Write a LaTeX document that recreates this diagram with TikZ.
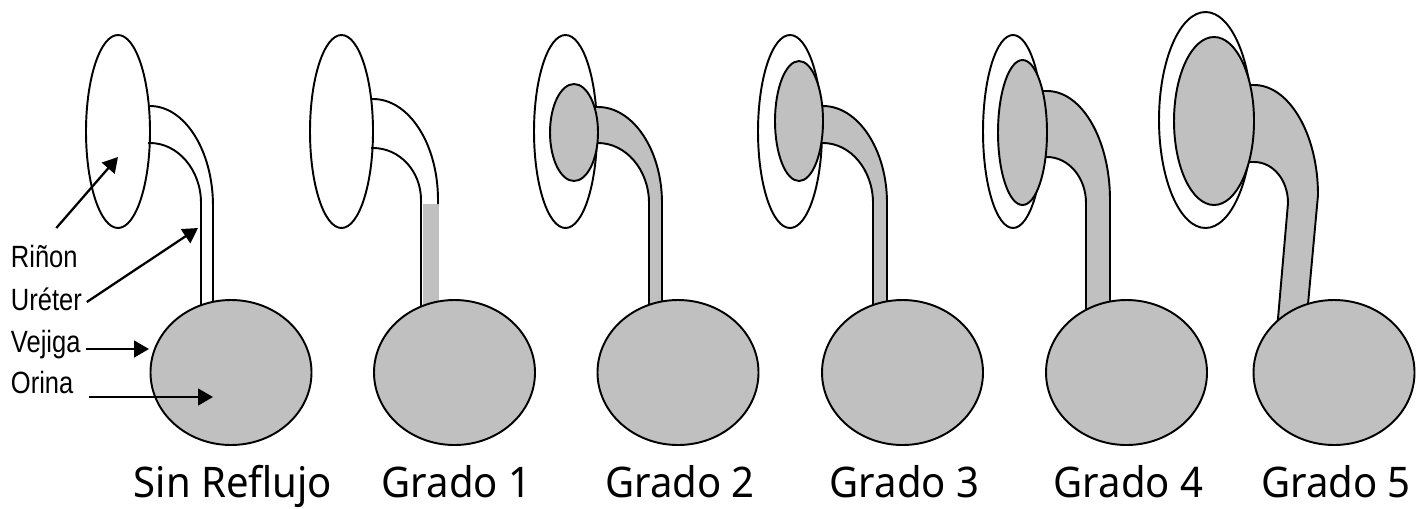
\documentclass[tikz,border=0pt]{standalone}
\usepackage{fontspec}
\newfontfamily\labelfont[FakeStretch=0.83]{Liberation Sans}
\newfontfamily\gradefont[FakeStretch=0.95]{Noto Sans}
\usepackage{tikz}
\usetikzlibrary{arrows.meta}
\definecolor{orina}{RGB}{192,192,192}

\begin{document}
\begin{tikzpicture}[x=0.02cm,y=-0.02cm,line width=1.1pt,
  organo/.style={draw,fill=orina},
  hueco/.style={draw,fill=white},
  flecha/.style={-{Triangle[length=8.5pt,width=9.5pt]},line width=1.3pt},
  etiqueta/.style={font=\labelfont\fontsize{17.5}{20}\selectfont,inner sep=0pt,anchor=base west},
  grado/.style={font=\gradefont\fontsize{24}{28}\selectfont,inner sep=0pt,anchor=base}]
 \useasboundingbox (0,0) rectangle (1422,508);
 % rinones
 \draw[hueco] (118,131.5) ellipse [x radius=32,y radius=96.5];
 \draw[hueco] (341.5,131.5) ellipse [x radius=31.5,y radius=96.5];
 \draw[hueco] (565.5,131.5) ellipse [x radius=31.5,y radius=96.5];
 \draw[hueco] (790,131.5) ellipse [x radius=32,y radius=96.5];
 \draw[hueco] (1013,131.5) ellipse [x radius=30,y radius=96.5];
 \draw[hueco] (1205.5,120) ellipse [x radius=46.5,y radius=108];
 % ureteres sin reflujo y grado 1
 \draw (148,106) -- (150,106) .. controls (185,106) and (213,151) .. (213,206) -- (213,310);
 \draw (148,143) -- (150,143) .. controls (178,143) and (201,170) .. (201,203) -- (201,315);
 \fill[orina] (422.5,204) rectangle (438.5,315);
 \draw (371,99) -- (373,99) .. controls (409,99) and (438,144) .. (438,200) -- (438,204);
 \draw (371,148) -- (373,148) .. controls (399.5,148) and (421,171) .. (421,200) -- (421,315);
 % ureteres con reflujo
 \fill[orina] (574,107) -- (598,107) .. controls (633,107) and (662,150) .. (662,203) -- (662,320)
   -- (649,320) -- (649,203) .. controls (649,170) and (626,143) .. (598,143) -- (574,143) -- cycle;
 \draw (574,107) -- (598,107) .. controls (633,107) and (662,150) .. (662,203) -- (662,315);
 \draw (574,143) -- (598,143) .. controls (626,143) and (649,170) .. (649,203) -- (649,315);
 \fill[orina] (799,106) -- (823,106) .. controls (858,106) and (887,149.5) .. (887,203) -- (887,320)
   -- (873,320) -- (873,203) .. controls (873,170) and (850.5,143) .. (823,143) -- (799,143) -- cycle;
 \draw (799,106) -- (823,106) .. controls (858,106) and (887,149.5) .. (887,203) -- (887,315);
 \draw (799,143) -- (823,143) .. controls (850.5,143) and (873,170) .. (873,203) -- (873,315);
 \fill[orina] (1022,91) -- (1047,91) .. controls (1082,91) and (1110,140) .. (1110,200) -- (1110,320)
   -- (1086,320) -- (1086,203) .. controls (1086,177.5) and (1068.5,157) .. (1047,157) -- (1022,157) -- cycle;
 \draw (1022,91) -- (1047,91) .. controls (1082,91) and (1110,140) .. (1110,200) -- (1110,315);
 \draw (1022,157) -- (1047,157) .. controls (1068.5,157) and (1086,177.5) .. (1086,203) -- (1086,320);
 \fill[orina] (1214,85) -- (1254,85) .. controls (1289,85) and (1318,134) .. (1318,195) -- (1307,320)
   -- (1277,330) -- (1288,203) .. controls (1288,180) and (1273,162) .. (1254,162) -- (1214,162) -- cycle;
 \draw (1214,85) -- (1254,85) .. controls (1289,85) and (1318,134) .. (1318,195) -- (1307,315);
 \draw (1214,162) -- (1254,162) .. controls (1273,162) and (1288,180) .. (1288,203) -- (1277,330);
 % pelvis dilatada
 \draw[organo] (574,132.5) ellipse [x radius=24,y radius=48.5];
 \draw[organo] (799,121) ellipse [x radius=24,y radius=60];
 \draw[organo] (1022.5,132.5) ellipse [x radius=24.5,y radius=72.5];
 \draw[organo] (1214,121) ellipse [x radius=40,y radius=84];
 % vejigas y grados
 \foreach \x/\t [count=\i] in {231/Sin Reflujo,454.5/Grado 1,678/Grado 2,902.5/Grado 3,1126.5/Grado 4,1334/Grado 5}
  {\draw[organo] (\x,372.5) ellipse [x radius=80.5,y radius=72.5];
   \node[grado] (grado\i) at (\x+2,497) {\t};}
 % nombres
 \node[etiqueta] (rinon) at (10,267) {Riñon};
 \node[etiqueta] (ureter) at (10,310) {Uréter};
 \node[etiqueta] (vejiga) at (10,352) {Vejiga};
 \node[etiqueta] (orina) at (10,393) {Orina};
 \coordinate (pRinon) at (118,157);
 \coordinate (pUreter) at (198,228);
 \coordinate (pVejiga) at (149,349);
 \coordinate (pOrina) at (213,397);
 \draw[flecha] ([shift={(12,-39)}]rinon.base) -- (pRinon);
 \draw[flecha] ([shift={(4,-8)}]ureter.base east) -- (pUreter);
 \draw[flecha] ([shift={(5,-3)}]vejiga.base east) -- (pVejiga);
 \draw[flecha] ([shift={(15,4)}]orina.base east) -- (pOrina);
\end{tikzpicture}
\end{document}
